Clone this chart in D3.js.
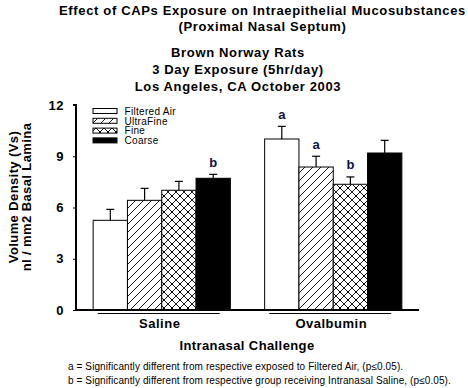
<!DOCTYPE html>
<html>
<head>
<meta charset="utf-8">
<script src="https://cdn.jsdelivr.net/npm/d3@7"></script>
<style>
  html, body { margin: 0; padding: 0; background: #fff; }
  svg { display: block; font-family: "Liberation Sans", Arial, sans-serif; }
</style>
</head>
<body>
<svg id="chart" width="468" height="388"></svg>
<script>
// ---- data ----
const groups = ["Saline", "Ovalbumin"];
const series = ["Filtered Air", "UltraFine", "Fine", "Coarse"];
const salineMeans = [5.25, 6.42, 7.01, 7.71];
const salineErr = [0.64, 0.70, 0.52, 0.23];
const ovalbuminMeans = [10.01, 8.37, 7.36, 9.19];
const ovalbuminErr = [0.74, 0.63, 0.43, 0.74];
const salineSig = ["", "", "", "b"];
const ovalbuminSig = ["a", "a", "b", ""];
const yTicks = [0, 3, 6, 9, 12];
const titleLines = ["Effect of CAPs Exposure on Intraepithelial Mucosubstances", "(Proximal Nasal Septum)"];
const subtitleLines = ["Brown Norway Rats", "3 Day Exposure (5hr/day)", "Los Angeles, CA October 2003"];
const yLabelLines = ["Volume Density (Vs)", "nl / mm2 Basal Lamina"];
const xTitle = "Intranasal Challenge";
const footnotes = [
  "a = Significantly different from respective exposed to Filtered Air, (p\u22640.05).",
  "b = Significantly different from respective group receiving Intranasal  Saline, (p\u22640.05)."
];

const means = [salineMeans, ovalbuminMeans];
const errs = [salineErr, ovalbuminErr];
const sigs = [salineSig, ovalbuminSig];

const rows = [];
groups.forEach((g, gi) => series.forEach((s, si) => rows.push({
  group: g, series: s, si, value: means[gi][si], err: errs[gi][si], sig: sigs[gi][si]
})));

const svg = d3.select("#chart");

// patterns
const defs = svg.append("defs");
const pUF = defs.append("pattern").attr("id", "pUF").attr("patternUnits", "userSpaceOnUse")
  .attr("width", 8).attr("height", 8);
pUF.append("rect").attr("width", 8).attr("height", 8).attr("fill", "#fff");
pUF.append("path").attr("d", "M-2,10 L10,-2 M-2,2 L2,-2 M6,10 L10,6")
  .attr("stroke", "#000").attr("stroke-width", 0.9);

const pF = defs.append("pattern").attr("id", "pF").attr("patternUnits", "userSpaceOnUse")
  .attr("width", 8).attr("height", 8);
pF.append("rect").attr("width", 8).attr("height", 8).attr("fill", "#fff");
pF.append("path").attr("d", "M-2,10 L10,-2 M-2,2 L2,-2 M6,10 L10,6 M-2,-2 L10,10 M-2,6 L2,10 M6,-2 L10,2")
  .attr("stroke", "#000").attr("stroke-width", 0.9);
pF.append("rect").attr("x", 3).attr("y", 3).attr("width", 2).attr("height", 2).attr("fill", "#000");

const fills = { "Filtered Air": "#fff", "UltraFine": "url(#pUF)", "Fine": "url(#pF)", "Coarse": "#000" };

// scales
const plotLeft = 76, plotRight = 419, plotTop = 105, plotBottom = 310;
const x0 = d3.scaleBand().domain(groups).range([plotLeft, plotRight]).paddingInner(0.2).paddingOuter(0.1);
const x1 = d3.scaleBand().domain(series).range([0, x0.bandwidth()]);
const y = d3.scaleLinear().domain([0, 12]).range([plotBottom, plotTop]);

// bars
const bars = svg.append("g");
bars.selectAll("rect").data(rows).join("rect")
  .attr("x", d => x0(d.group) + x1(d.series))
  .attr("y", d => y(d.value))
  .attr("width", x1.bandwidth())
  .attr("height", d => y(0) - y(d.value))
  .attr("fill", d => fills[d.series])
  .attr("stroke", "#000").attr("stroke-width", 1);

// error bars
const eb = svg.append("g").attr("stroke", "#000").attr("stroke-width", 1.2);
rows.forEach(d => {
  const cx = x0(d.group) + x1(d.series) + x1.bandwidth() / 2;
  eb.append("line").attr("x1", cx).attr("x2", cx).attr("y1", y(d.value)).attr("y2", y(d.value + d.err));
  eb.append("line").attr("x1", cx - 4).attr("x2", cx + 4).attr("y1", y(d.value + d.err)).attr("y2", y(d.value + d.err));
});

// significance letters
svg.append("g").selectAll("text").data(rows.filter(d => d.sig)).join("text")
  .attr("x", d => x0(d.group) + x1(d.series) + x1.bandwidth() / 2)
  .attr("y", d => y(d.value + d.err) - 7.5)
  .attr("text-anchor", "middle")
  .attr("font-size", 13).attr("font-weight", "bold").attr("fill", "#10104a")
  .text(d => d.sig);

// axes
const yAxis = d3.axisLeft(y).tickValues(yTicks).tickSize(3).tickPadding(9);
const gy = svg.append("g").attr("transform", `translate(${plotLeft},0)`).call(yAxis);
gy.select(".domain").attr("stroke-width", 2).attr("d", `M-3,${plotTop}H0V${plotBottom}`);
gy.selectAll(".tick line").attr("stroke-width", 1);
gy.selectAll("text").attr("font-size", 13).attr("font-weight", "bold").attr("fill", "#000")
  .attr("font-family", "Liberation Sans, Arial, sans-serif").attr("letter-spacing", 0.5);

svg.append("line").attr("x1", plotLeft - 1).attr("x2", plotRight).attr("y1", plotBottom).attr("y2", plotBottom)
  .attr("stroke", "#000").attr("stroke-width", 2);

// group underline + labels
groups.forEach(g => {
  const c = x0(g) + x0.bandwidth() / 2 - 3;
  svg.append("line").attr("x1", c - 61).attr("x2", c + 61).attr("y1", 313.5).attr("y2", 313.5)
    .attr("stroke", "#000").attr("stroke-width", 1);
  svg.append("text").attr("x", c + 1).attr("y", 327.5).attr("text-anchor", "middle")
    .attr("font-size", 13).attr("font-weight", "bold").attr("letter-spacing", 0.5).text(g);
});

// legend
const lg = svg.append("g");
series.forEach((s, i) => {
  const yy = 108.5 + i * 9.8;
  lg.append("rect").attr("x", 93).attr("y", yy).attr("width", 24).attr("height", 5)
    .attr("fill", fills[s]).attr("stroke", "#000").attr("stroke-width", 1);
  lg.append("text").attr("x", 124.5).attr("y", yy + 6.3).attr("font-size", 10)
    .attr("letter-spacing", 0.3).text(s);
});

// titles
titleLines.forEach((t, i) => svg.append("text").attr("x", 262.5).attr("y", 15 + i * 16)
  .attr("text-anchor", "middle").attr("font-size", 13).attr("font-weight", "bold")
  .attr("letter-spacing", 0.65).text(t));
subtitleLines.forEach((t, i) => svg.append("text").attr("x", 238).attr("y", 57 + i * 17)
  .attr("text-anchor", "middle").attr("font-size", 13).attr("font-weight", "bold")
  .attr("letter-spacing", 0.65).text(t));

// y label
yLabelLines.forEach((t, i) => svg.append("text")
  .attr("transform", `translate(${18 + i * 13},197) rotate(-90)`)
  .attr("text-anchor", "middle").attr("font-size", 13).attr("font-weight", "bold")
  .attr("letter-spacing", 0.4).text(t));

// x title
svg.append("text").attr("x", 247).attr("y", 350).attr("text-anchor", "middle")
  .attr("font-size", 13).attr("font-weight", "bold").attr("letter-spacing", 0.4).text(xTitle);

// footnotes
footnotes.forEach((t, i) => svg.append("text").attr("x", 68).attr("y", 370 + i * 13.5)
  .attr("font-size", 10).attr("letter-spacing", 0.1).text(t));
</script>
</body>
</html>
